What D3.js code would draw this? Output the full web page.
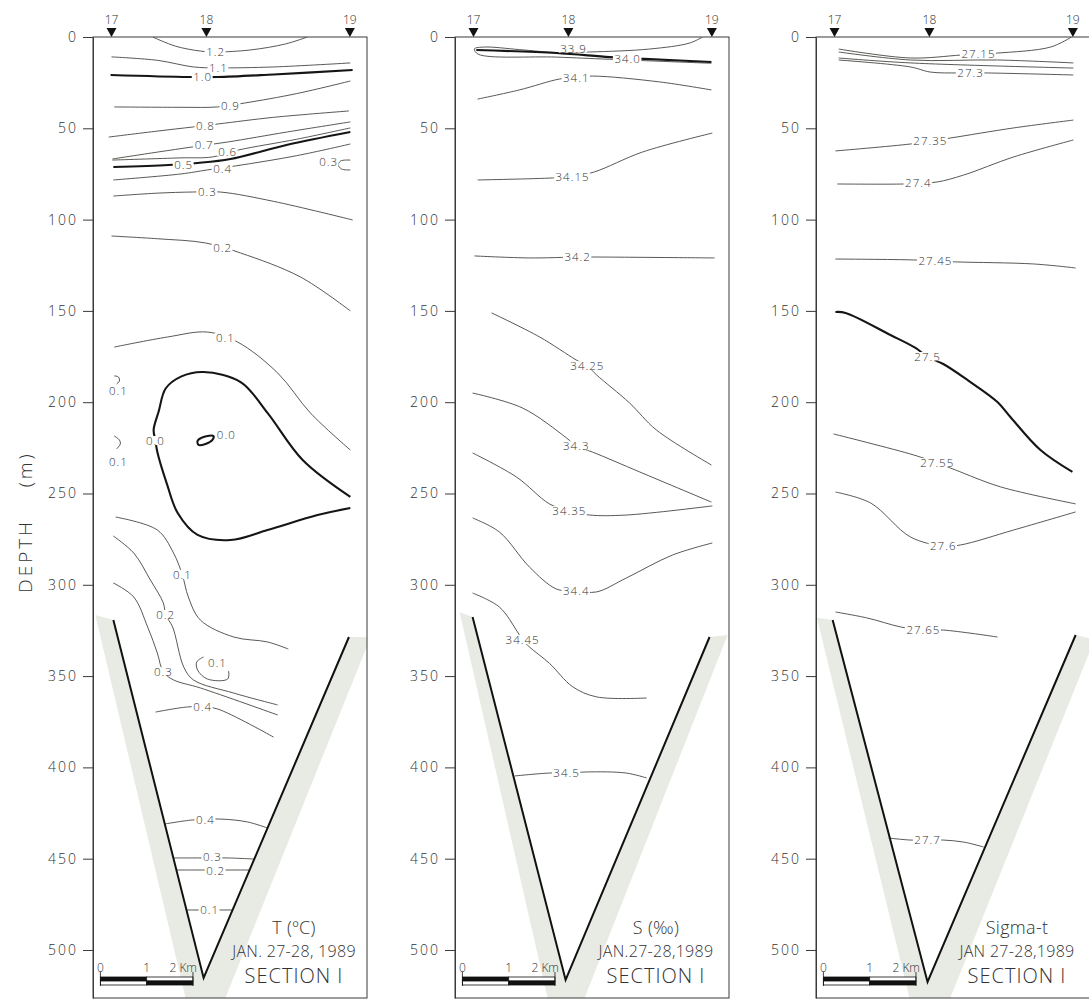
<!DOCTYPE html>
<html>
<head>
<meta charset="utf-8">
<script src="https://cdn.jsdelivr.net/npm/d3@7"></script>
<style>
  body { margin: 0; background: #fff; }
  svg text { font-family: 'Open Sans', 'DejaVu Sans', sans-serif; font-weight: 300; fill: #333; }
</style>
</head>
<body>
<svg id="chart" width="1089" height="1000"></svg>
<script>
// stations of section I, distance in km from station 17
const stations = ["17", "18", "19"]
const stationKm = [0, 2.05, 5.15]
const depthTicks = [0, 50, 100, 150, 200, 250, 300, 350, 400, 450, 500]
const scaleBarKm = [0, 1, 2]
const scaleBarLabels = ["0", "1", "2 Km"]

// isolines: [km, depth m], lab = where the value is written
const tempContours = [
  {v: "1.2", lab: [2.25, 8.2], pts: [[0.89, 0], [1.38, 5], [1.92, 7.7], [2.25, 8.2], [3.0, 7.1], [3.76, 3.8], [4.23, 0]]},
  {v: "1.1", lab: [2.31, 16.9], pts: [[0, 10.9], [1.0, 12.8], [1.77, 16.4], [2.31, 16.9], [3.5, 16.4], [5.16, 14.2]]},
  {v: "1.0", lab: [1.97, 21.9], pts: [[-0.02, 20.8], [1.66, 21.9], [2.29, 21.9], [3.5, 20.5], [5.21, 18.1]]},
  {v: "0.9", lab: [2.57, 37.6], pts: [[0.06, 38.3], [1.5, 38.5], [2.29, 38.3], [2.89, 36.1], [4.0, 31], [5.16, 24.1]]},
  {v: "0.8", lab: [2.03, 48.5], pts: [[-0.06, 54.8], [1.0, 51.5], [1.75, 49.3], [2.31, 47.6], [3.5, 44], [5.13, 40.5]]},
  {v: "0.7", lab: [2.0, 58.8], pts: [[0.02, 66.8], [1.0, 63], [1.75, 60.2], [2.51, 57.5], [3.8, 52], [5.16, 46.5]]},
  {v: "0.6", lab: [2.51, 62.8], pts: [[0.02, 67.4], [1.5, 66.2], [2.18, 65.7], [2.74, 61.9], [4.0, 56], [5.16, 49.8]]},
  {v: "0.5", lab: [1.56, 70.1], pts: [[0.04, 71.2], [1.23, 70.1], [1.86, 69], [2.57, 66.8], [3.8, 59], [5.16, 52]]},
  {v: "0.4", lab: [2.4, 72], pts: [[0.04, 78.3], [1.5, 75], [2.07, 72.8], [2.68, 70.6], [4.0, 65], [5.16, 58.6]]},
  {v: "0.3", lab: [4.69, 68.5], pts: [[5.16, 67.4], [4.95, 67.9], [4.9, 70.1], [4.97, 72.3], [5.16, 72.8]]},
  {v: "0.3", lab: [2.07, 84.9], pts: [[0.04, 87.1], [1.0, 85.5], [1.75, 84.9], [2.35, 84.9], [3.5, 90], [5.21, 100.2]]},
  {v: "0.2", lab: [2.4, 115.5], pts: [[0, 109], [1.0, 110.5], [2.03, 112.8], [2.79, 118.3], [4.08, 131.4], [5.16, 150]]},
  {v: "0.1", lab: [2.46, 164.8], pts: [[0.06, 169.8], [1.21, 164.3], [2.07, 161.6], [2.72, 167], [3.59, 184], [4.3, 206], [5.16, 226.2]]},
  {v: "0.1", lab: [0.15, 193.8], pts: [[0.06, 185.6], [0.15, 186.2], [0.17, 188.4], [0.11, 190]]},
  {v: "0.0", lab: [0.95, 221.2], pts: [[5.16, 251.9], [4.13, 231.7], [3.37, 205.9], [2.79, 189], [1.99, 183.5], [1.5, 186], [1.17, 192.5], [1.02, 205], [0.91, 215.2], [0.95, 221.2], [0.99, 227.3], [1.2, 245], [1.43, 260.7], [1.86, 272.7], [2.57, 275.5], [3.37, 270], [4.45, 261.8], [5.16, 257.9]]},
  {v: "0.0", lab: [2.48, 218], closed: true, pts: [[2.2, 218.5], [1.99, 219.1], [1.86, 221.2], [1.88, 223.4], [2.03, 222.9], [2.18, 220.7]]},
  {v: "0.1", lab: [0.15, 232.7], pts: [[0.06, 218.5], [0.17, 220.7], [0.19, 222.9], [0.11, 225.6]]},
  {v: "0.1", lab: [1.53, 294.6], pts: [[0.09, 262.9], [0.99, 270], [1.34, 282.6], [1.53, 294.6], [1.66, 306.7], [1.92, 319.3], [2.64, 328.6], [3.37, 331.3], [3.82, 335.2]]},
  {v: "0.2", lab: [1.17, 316.5], pts: [[0.04, 273.3], [0.48, 282.6], [0.84, 297.4], [1.12, 310], [1.17, 316.5], [1.32, 323.1], [1.56, 345], [1.77, 352.1], [2.64, 359.3], [3.59, 365.8]]},
  {v: "0.3", lab: [1.12, 347.8], pts: [[0.04, 299], [0.48, 306.7], [0.78, 323.1], [0.99, 337.4], [1.12, 347.8], [1.34, 352.1], [1.92, 356.5], [3.59, 371.3]]},
  {v: "0.1", lab: [2.29, 342.8], pts: [[1.99, 339.5], [1.84, 342.3], [1.86, 346.7], [2.07, 351.6], [2.51, 351.6], [2.53, 347.2]]},
  {v: "0.4", lab: [1.97, 367], pts: [[0.95, 369.7], [1.64, 366.9], [1.97, 366.9], [2.29, 368], [3.5, 383.4]]},
  {v: "0.4", lab: [2.03, 428.8], pts: [[1.15, 431], [1.75, 428.8], [2.35, 428.3], [2.94, 429.9], [3.37, 433.2]]},
  {v: "0.3", lab: [2.18, 449.2], pts: [[1.34, 449.6], [1.86, 449.6], [2.51, 449.6], [3.08, 450.2]]},
  {v: "0.2", lab: [2.25, 456.8], pts: [[1.4, 456.2], [1.88, 456.2], [2.98, 456.2]]},
  {v: "0.1", lab: [2.12, 478.1], pts: [[1.62, 478.1], [2.62, 478.1]]}
]

const salContours = [
  {v: "33.9", lab: [2.16, 6.3], pts: [[4.95, 0], [4.67, 3.3], [3.8, 6.6], [2.51, 8.2], [1.79, 8.5], [0.99, 6.9], [0.24, 5.5], [0.02, 6.5], [0.1, 9.4], [1.79, 11], [2.94, 12.2], [5.14, 14.4]]},
  {v: "34.0", lab: [3.33, 12], pts: [[0.06, 7.1], [1.79, 8.8], [2.94, 11], [3.69, 12], [5.14, 13.7]]},
  {v: "34.1", lab: [2.22, 22.2], pts: [[0.09, 34], [0.99, 29], [1.86, 23], [2.22, 22.2], [2.57, 21.4], [4.02, 24.6], [5.14, 29]]},
  {v: "34.15", lab: [2.14, 76.4], pts: [[0.09, 78.3], [1.71, 77.2], [2.14, 76.4], [2.61, 73.9], [3.65, 63], [5.16, 52.6]]},
  {v: "34.2", lab: [2.25, 120.5], pts: [[0.02, 119.9], [1.21, 121], [2.25, 120.5], [2.66, 120.5], [5.21, 121]]},
  {v: "34.25", lab: [2.46, 180.2], pts: [[0.39, 151.1], [1.43, 164.3], [2.22, 176.9], [2.46, 180.2], [2.66, 185.1], [3.37, 200.4], [3.95, 215.2], [5.14, 234.4]]},
  {v: "34.3", lab: [2.22, 224], pts: [[-0.02, 195], [1.06, 203.2], [2.01, 219.6], [2.22, 224], [2.57, 227.3], [3.59, 238.2], [5.14, 254.7]]},
  {v: "34.35", lab: [2.07, 259.6], pts: [[-0.02, 227.8], [0.93, 241], [1.64, 255.7], [2.07, 259.6], [2.51, 261.8], [3.3, 261.8], [5.16, 256.8]]},
  {v: "34.4", lab: [2.22, 303.4], pts: [[-0.02, 263.4], [0.56, 271.1], [1.21, 290.3], [1.79, 302.3], [2.22, 303.4], [2.66, 303.9], [3.3, 296.3], [4.3, 283.7], [5.16, 277.1]]},
  {v: "34.45", lab: [1.06, 330.2], pts: [[-0.02, 304.5], [0.56, 312.2], [0.95, 325.8], [1.06, 330.2], [1.21, 334.1], [1.64, 343], [2.14, 355.8], [2.66, 361.4], [3.74, 362]]},
  {v: "34.5", lab: [2.01, 403.1], pts: [[0.89, 404.7], [1.64, 403.1], [2.07, 403.1], [2.44, 402.5], [3.3, 403.1], [3.74, 405.8]]}
]

const sigmaContours = [
  {v: "27.15", lab: [3.11, 9.3], pts: [[0.09, 6.6], [1.64, 11.5], [2.72, 9.9], [3.11, 9.3], [3.52, 8.8], [4.67, 5.5], [5.12, 0]]},
  {v: "27.2", lab: null, pts: [[0.09, 8.2], [1.64, 12.6], [3.52, 12.6], [5.16, 14.2]]},
  {v: "27.25", lab: null, pts: [[0.09, 11.5], [1.64, 14.2], [5.16, 17]]},
  {v: "27.3", lab: [2.94, 19.7], pts: [[0.09, 12.6], [1.64, 16.4], [2.07, 19.2], [2.66, 19.7], [2.94, 19.7], [3.3, 19.7], [5.16, 20.8]]},
  {v: "27.35", lab: [2.07, 57], pts: [[0.02, 62.4], [1.64, 58.6], [2.07, 57], [2.51, 55.3], [3.87, 49.8], [5.16, 45.5]]},
  {v: "27.4", lab: [1.81, 80], pts: [[0.06, 80.5], [1.49, 80.5], [1.81, 80], [2.22, 79.4], [2.79, 75.6], [3.87, 65.7], [5.16, 56.4]]},
  {v: "27.45", lab: [2.18, 122.7], pts: [[0.02, 121.6], [1.71, 122.1], [2.18, 122.7], [2.66, 123.2], [4.3, 124.3], [5.21, 126.5]]},
  {v: "27.5", lab: [2.01, 175.2], pts: [[0.02, 150.6], [0.24, 151.1], [1.21, 163.2], [1.75, 170.3], [2.01, 175.2], [2.35, 179.1], [2.87, 187.8], [3.52, 199.9], [3.8, 208.1], [4.45, 226.2], [5.14, 238.2]]},
  {v: "27.55", lab: [2.22, 233.3], pts: [[-0.02, 217.4], [1.71, 228.9], [2.22, 233.3], [2.61, 237.1], [3.59, 246.4], [5.21, 255.7]]},
  {v: "27.6", lab: [2.35, 278.8], pts: [[0.02, 249.2], [0.78, 255.2], [1.64, 273.8], [2.35, 278.8], [2.72, 278.2], [3.87, 270], [5.21, 260.1]]},
  {v: "27.65", lab: [1.92, 324.8], pts: [[0.02, 314.9], [0.71, 318.2], [1.43, 323.1], [1.92, 324.8], [2.35, 324.8], [3.52, 328.6]]},
  {v: "27.7", lab: [2.01, 439.8], pts: [[1.17, 438.7], [1.64, 439.8], [2.01, 439.8], [2.35, 439.8], [2.79, 440.9], [3.22, 443.6]]}
]

const tempBold = ["1.0", "0.5", "0.0"]
const salBold = ["34.0"]
const sigmaBold = ["27.5"]

// trench walls (left top, floor, right top) and the outer edge of the grey band
const tempBottom = [[0.04, 319.3], [1.99, 515.3], [5.13, 328.6]]
const salBottom = [[-0.02, 317.6], [1.99, 516.4], [5.1, 328.6]]
const sigmaBottom = [[-0.04, 319.3], [2.01, 517.5], [5.21, 327.5]]
const tempShade = [[-0.35, 316.5], [1.6, 526.3], [2.46, 526.3], [5.6, 328.6]]
const salShade = [[-0.3, 315], [1.6, 526.3], [2.4, 526.3], [5.49, 327.5]]
const sigmaShade = [[-0.38, 318], [1.62, 526.3], [2.5, 526.3], [5.62, 330]]

const tempTitle = ["T (ºC)", "JAN. 27-28, 1989", "SECTION I"]
const salTitle = ["S (‰)", "JAN.27-28,1989", "SECTION I"]
const sigmaTitle = ["Sigma-t", "JAN 27-28,1989", "SECTION I"]

const panels = [
  {left: 93, contours: tempContours, bold: tempBold, bottom: tempBottom, shade: tempShade, title: tempTitle},
  {left: 455, contours: salContours, bold: salBold, bottom: salBottom, shade: salShade, title: salTitle},
  {left: 816, contours: sigmaContours, bold: sigmaBold, bottom: sigmaBottom, shade: sigmaShade, title: sigmaTitle}
]

const svg = d3.select('#chart')
const panelW = 274

const x = d3.scaleLinear().domain([-0.4, 5.52]).range([0, panelW])
const y = d3.scaleLinear().domain([0, 526.3]).range([37, 998])

const line = d3.line().x(d => x(d[0])).y(d => y(d[1])).curve(d3.curveCatmullRom.alpha(0.5))
const loop = d3.line().x(d => x(d[0])).y(d => y(d[1])).curve(d3.curveCatmullRomClosed.alpha(0.5))
const straight = d3.line().x(d => x(d[0])).y(d => y(d[1]))

panels.forEach((p, pi) => {
  const g = svg.append('g').attr('transform', `translate(${p.left},0)`)

  g.append('clipPath').attr('id', 'clip' + pi)
    .append('rect')
    .attr('x', 0).attr('y', y(0))
    .attr('width', panelW).attr('height', y(526.3) - y(0))

  const inner = g.append('g').attr('clip-path', `url(#clip${pi})`)

  // grey band outside the trench walls
  const b = p.bottom, s = p.shade
  inner.append('path')
    .attr('d', straight([s[0], b[0], b[1], b[2], s[3], s[2], s[1]]) + 'Z')
    .attr('fill', '#e8ebe3')

  inner.selectAll('.iso')
    .data(p.contours)
    .enter()
    .append('path')
    .attr('class', 'iso')
    .attr('d', d => d.closed ? loop(d.pts) : line(d.pts))
    .attr('fill', 'none')
    .attr('stroke', d => p.bold.includes(d.v) ? '#151515' : '#44473f')
    .attr('stroke-width', d => p.bold.includes(d.v) ? 2.1 : 0.9)

  inner.append('path')
    .attr('d', straight(p.bottom))
    .attr('fill', 'none')
    .attr('stroke', '#111')
    .attr('stroke-width', 2)

  // value labels sit in a small gap cut out of the line
  const labs = inner.selectAll('.lab')
    .data(p.contours.filter(d => d.lab))
    .enter()
    .append('g')
    .attr('class', 'lab')

  labs.append('text')
    .attr('x', d => x(d.lab[0]))
    .attr('y', d => y(d.lab[1]))
    .attr('dy', '0.36em')
    .attr('text-anchor', 'middle')
    .attr('font-size', 11.5)
    .attr('letter-spacing', 1)
    .attr('fill', '#2a2a2a')
    .text(d => d.v)

  labs.each(function() {
    const bb = d3.select(this).select('text').node().getBBox()
    d3.select(this).insert('rect', 'text')
      .attr('x', bb.x - 1.5)
      .attr('y', bb.y + 3)
      .attr('width', bb.width + 2)
      .attr('height', Math.max(bb.height - 6, 4))
      .attr('fill', '#fff')
  })

  // frame
  g.append('rect')
    .attr('x', 0).attr('y', y(0))
    .attr('width', panelW).attr('height', y(526.3) - y(0))
    .attr('fill', 'none').attr('stroke', '#3a3a3a').attr('stroke-width', 1)

  const axis = g.append('g')
    .call(d3.axisLeft(y).tickValues(depthTicks).tickSize(10).tickSizeOuter(0).tickPadding(5))
  axis.select('.domain').attr('stroke', '#3a3a3a')
  axis.selectAll('line').attr('stroke', '#3a3a3a')
  axis.selectAll('text')
    .attr('font-size', 14)
    .attr('letter-spacing', 2)
    .attr('fill', '#444')
    .attr('font-family', null)

  // station markers
  g.selectAll('.st')
    .data(stations)
    .enter()
    .append('path')
    .attr('class', 'st')
    .attr('d', (d, i) => `M${x(stationKm[i]) - 5},28L${x(stationKm[i]) + 5},28L${x(stationKm[i])},37Z`)
    .attr('fill', '#111')

  g.selectAll('.stl')
    .data(stations)
    .enter()
    .append('text')
    .attr('class', 'stl')
    .attr('x', (d, i) => x(stationKm[i]))
    .attr('y', 24)
    .attr('text-anchor', 'middle')
    .attr('font-size', 12)
    .text(d => d)

  // scale bar
  const s0 = -0.24
  const sb = g.append('g')
  ;[0, 1].forEach(i => {
    sb.append('rect')
      .attr('x', x(s0 + scaleBarKm[i])).attr('y', 977)
      .attr('width', x(s0 + scaleBarKm[i + 1]) - x(s0 + scaleBarKm[i])).attr('height', 4)
      .attr('fill', i == 0 ? '#111' : '#fff').attr('stroke', '#111').attr('stroke-width', 0.8)
    sb.append('rect')
      .attr('x', x(s0 + scaleBarKm[i])).attr('y', 981)
      .attr('width', x(s0 + scaleBarKm[i + 1]) - x(s0 + scaleBarKm[i])).attr('height', 4)
      .attr('fill', i == 0 ? '#fff' : '#111').attr('stroke', '#111').attr('stroke-width', 0.8)
  })
  sb.selectAll('line')
    .data([scaleBarKm[0], scaleBarKm[2]])
    .enter()
    .append('line')
    .attr('x1', d => x(s0 + d)).attr('x2', d => x(s0 + d))
    .attr('y1', 972).attr('y2', 986)
    .attr('stroke', '#111').attr('stroke-width', 0.8)
  sb.selectAll('text')
    .data(scaleBarLabels)
    .enter()
    .append('text')
    .attr('x', (d, i) => x(s0 + scaleBarKm[i]) + (i == 2 ? 4 : 0))
    .attr('y', 972)
    .attr('text-anchor', (d, i) => i == 2 ? 'end' : 'middle')
    .attr('font-size', 12)
    .text(d => d)

  // panel caption
  g.selectAll('.ttl')
    .data(p.title)
    .enter()
    .append('text')
    .attr('class', 'ttl')
    .attr('x', 201)
    .attr('y', (d, i) => [934, 957, 983][i])
    .attr('text-anchor', 'middle')
    .attr('font-size', (d, i) => [18, 16, 20][i])
    .attr('letter-spacing', (d, i) => i == 2 ? 1 : 0.3)
    .attr('fill', '#222')
    .text(d => d)
})

svg.append('text')
  .attr('transform', 'translate(32,522) rotate(-90)')
  .attr('text-anchor', 'middle')
  .attr('font-size', 19)
  .attr('letter-spacing', 3)
  .attr('fill', '#444')
  .style('white-space', 'pre')
  .text('DEPTH    (m)')
</script>
</body>
</html>
